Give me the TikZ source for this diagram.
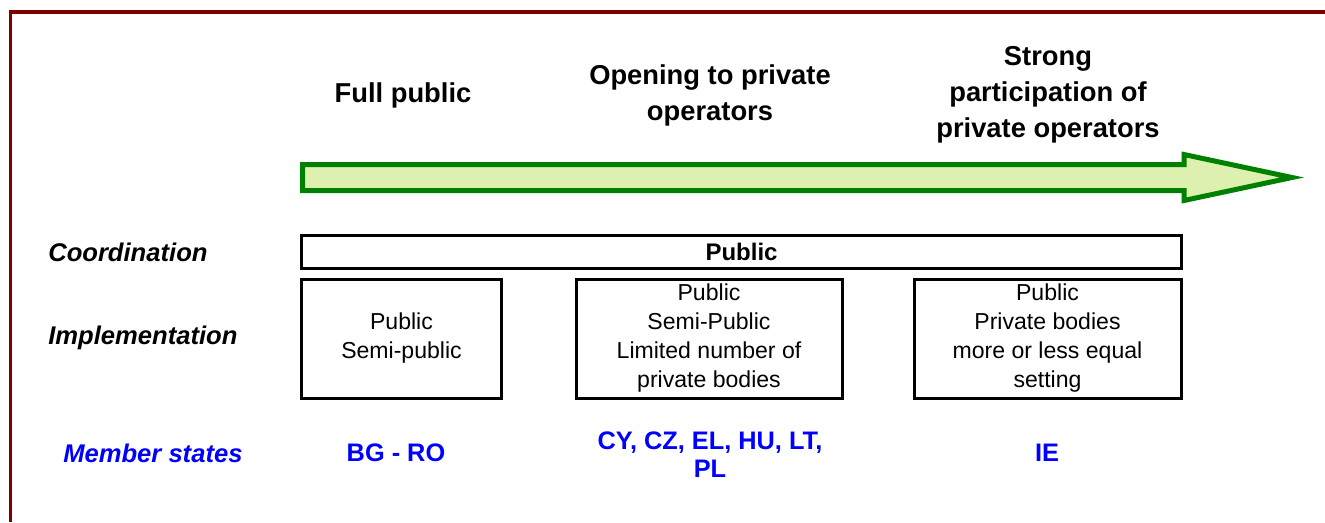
\documentclass[tikz,border=0pt]{standalone}
\usepackage{fontspec}
\setmainfont{Liberation Sans}
\usepackage{tikz}
\usetikzlibrary{positioning}
\definecolor{framered}{RGB}{128,0,0}
\definecolor{arrowgreen}{RGB}{0,128,0}
\definecolor{arrowfill}{RGB}{222,240,176}
\definecolor{msblue}{RGB}{0,0,255}

\begin{document}
\begin{tikzpicture}[x=0.75pt,y=-0.75pt,
  head/.style={font=\fontsize{20.5}{27}\selectfont\bfseries,align=center,inner sep=0pt},
  rowlabel/.style={font=\fontsize{19.2}{23}\selectfont\bfseries\itshape,anchor=west,inner sep=0pt},
  implbox/.style={draw,line width=2.25pt,minimum height=89.25pt,inner sep=0pt,align=center,
    font=\fontsize{17.3}{21.75}\selectfont},
  states/.style={font=\fontsize{19}{21}\selectfont\bfseries,text=msblue,align=center,inner sep=0pt}]
  \useasboundingbox (0,0) rectangle (1325,522);
  \draw[framered,line width=2.5pt] (10.5,522) -- (10.5,12) -- (1325,12);
  % time arrow
  \draw[arrowgreen,fill=arrowfill,line width=3.75pt,line join=miter]
    (302.5,164.5) -- (1184,164.5) -- (1184,154.5) -- (1292,177.5)
    -- (1184,200.5) -- (1184,190.5) -- (302.5,190.5) -- cycle;
  \node[head] (full) at (403,95) {Full public};
  \node[head] (open) at (710,95) {Opening to private\\operators};
  \node[head] (strong) at (1048,95) {Strong\\participation of\\private operators};
  % rows
  \node[rowlabel] (coord) at (48,252) {Coordination};
  \node[rowlabel] (impl) at (48,338) {Implementation};
  \node[rowlabel,text=msblue] (members) at (63,453) {Member states};
  \node[draw,line width=2.25pt,minimum width=660pt,minimum height=24.75pt,inner sep=0pt,
    font=\fontsize{18}{21}\selectfont\bfseries] (pub) at (741.5,251.5) {Public};
  \node[implbox,minimum width=150pt] (box1) at (401.5,338.5) {Public\\Semi-public};
  \node[implbox,minimum width=199.5pt] (box2) at (709,338.5)
    {Public\\Semi-Public\\Limited number of\\private bodies};
  \node[implbox,minimum width=200.25pt] (box3) at (1047.5,338.5)
    {Public\\Private bodies\\more or less equal\\setting};
  \node[states] (ms1) at (396,453) {BG - RO};
  \node[states] (ms2) at (710,455) {CY, CZ, EL, HU, LT,\\PL};
  \node[states] (ms3) at (1047,453) {IE};
\end{tikzpicture}
\end{document}
